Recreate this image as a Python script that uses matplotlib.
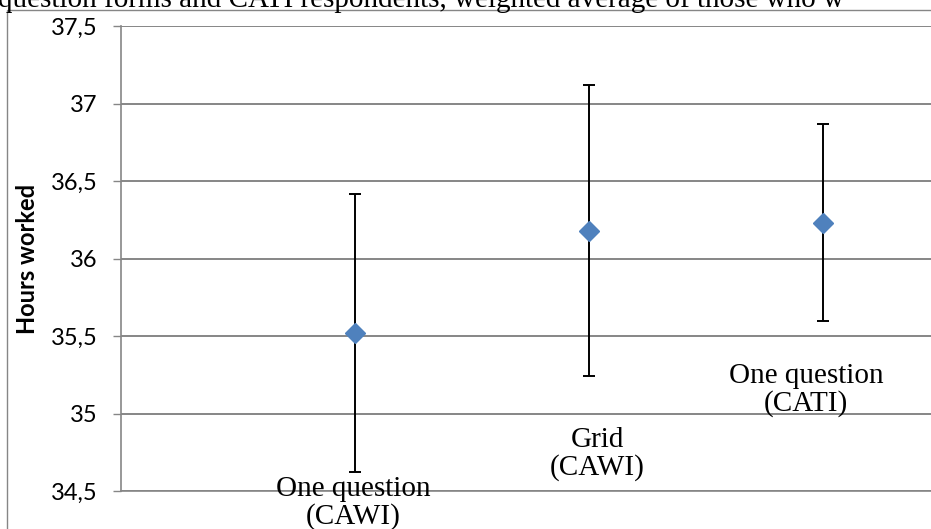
import matplotlib.pyplot as plt
from matplotlib.patches import Rectangle

# ===== data =====
categories = ["One question\n(CAWI)", "Grid\n(CAWI)", "One question\n(CATI)"]
positions = [1, 2, 3]
means = [35.52, 36.18, 36.23]
errors = [0.895, 0.94, 0.635]
yticks = [34.5, 35.0, 35.5, 36.0, 36.5, 37.0, 37.5]
title = "question forms and CATI respondents, weighted average of those who w"

grid_col = "#868686"
W, H = 931, 529
fig = plt.figure(figsize=(W / 100, H / 100), dpi=100)

# chart area border (only top/left visible in the crop)
fig.patches.append(Rectangle((7 / W, -0.1), 2.0, 1 - 10 / H + 0.1,
                             transform=fig.transFigure, fill=False,
                             edgecolor=grid_col, linewidth=1.0, zorder=0))

# plot area runs past the right edge like in the cropped original
ax = fig.add_axes([121 / W, 1 - 491 / H, 936 / W, 465 / H])

ax.errorbar(positions, means, yerr=errors, fmt="none", ecolor="black",
            elinewidth=1.4, capsize=4.5, capthick=1.4, zorder=3)
ax.plot(positions, means, linestyle="none", marker="D", markersize=10,
        color="#4F81BD", markeredgecolor="#4F81BD", zorder=4)

# data labels
offsets = [(-2, -170), (8, -223), (-17, -167)]
for x, y, lab, off in zip(positions, means, categories, offsets):
    ax.annotate(lab, (x, y), xytext=off, textcoords="offset pixels",
                ha="center", va="center", family="Liberation Serif",
                fontsize=21, linespacing=1.05, annotation_clip=False,
                zorder=5)

ax.set_xlim(0, 4)
ax.set_ylim(34.5, 37.5)
ax.set_yticks(yticks)
ax.set_yticklabels([f"{v:g}".replace(".", ",") for v in yticks],
                   family="Lato", fontsize=17)
ax.set_xticks([])
ax.yaxis.grid(True, color=grid_col, linewidth=1.4)
ax.set_axisbelow(True)
ax.tick_params(axis="y", direction="out", length=6, width=1, color=grid_col,
               pad=11)
for s in ["top", "right"]:
    ax.spines[s].set_visible(False)
for s in ["left", "bottom"]:
    ax.spines[s].set_color(grid_col)
    ax.spines[s].set_linewidth(1.2)

ax.set_ylabel("Hours worked", family="Lato", fontweight="bold", fontsize=17)
ax.yaxis.set_label_coords(-(121 - 28) / 936, 0.5)
ax.yaxis.label.set_va("center")

fig.text(-0.002, 1 - 7 / H, title, family="Liberation Serif", fontsize=21,
         ha="left", va="baseline")

plt.savefig("out.png", dpi=100)
